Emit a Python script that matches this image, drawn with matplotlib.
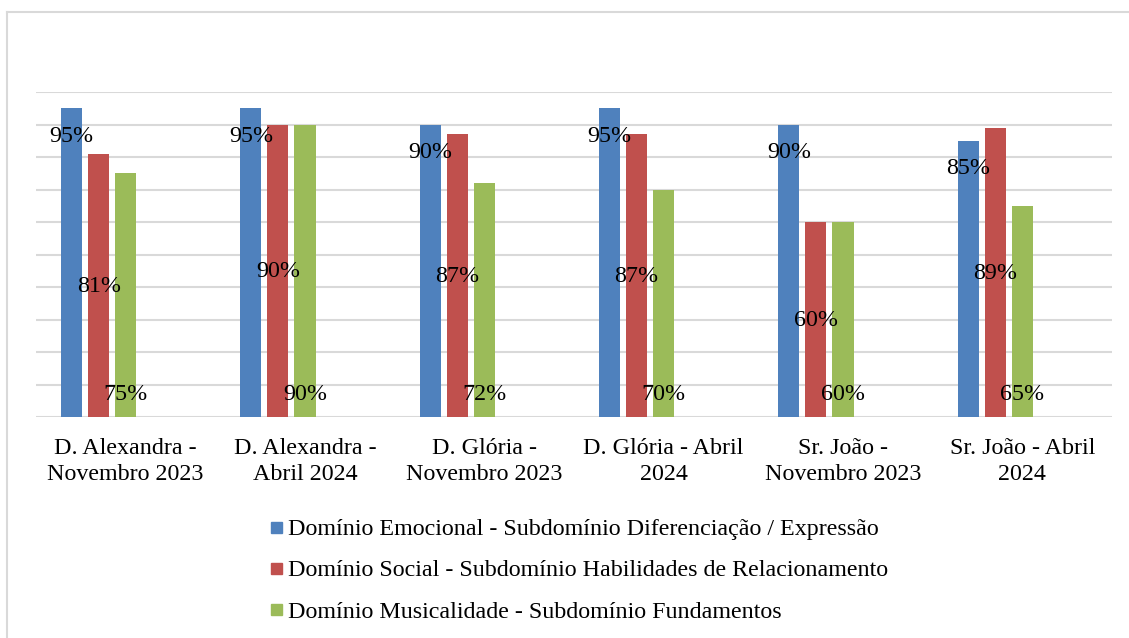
import matplotlib
matplotlib.use("Agg")
import matplotlib.pyplot as plt
from matplotlib.patches import Rectangle
from matplotlib.lines import Line2D
import numpy as np

categories = ["D. Alexandra -\nNovembro 2023", "D. Alexandra -\nAbril 2024",
              "D. Glória -\nNovembro 2023", "D. Glória - Abril\n2024",
              "Sr. João -\nNovembro 2023", "Sr. João - Abril\n2024"]
series_names = ["Domínio Emocional - Subdomínio Diferenciação / Expressão",
                "Domínio Social - Subdomínio Habilidades de Relacionamento",
                "Domínio Musicalidade - Subdomínio Fundamentos"]
emocional = [95, 95, 90, 95, 90, 85]
social = [81, 90, 87, 87, 60, 89]
musicalidade = [75, 90, 72, 70, 60, 65]
colors = ["#4F81BD", "#C0504D", "#9BBB59"]

plt.rcParams['font.family'] = ['Liberation Serif', 'DejaVu Serif']
FS = 17.3

W, H = 1129, 638
fig = plt.figure(figsize=(W/100, H/100), dpi=100)
ax = fig.add_axes([36/W, 1-417/H, (1112-36)/W, 325/H])

x = np.arange(len(categories))
bw = 21/179.3
step = 27/179.3
offsets = [-2*step, -step, 0]
data = [emocional, social, musicalidade]

for i, (vals, col) in enumerate(zip(data, colors)):
    ax.bar(x + offsets[i], vals, width=bw, color=col, edgecolor='none', zorder=3)

for xi in range(len(categories)):
    ax.annotate(f"{emocional[xi]}%", xy=(xi + offsets[0], emocional[xi]), xytext=(0, -28),
                textcoords='offset pixels', ha='center', va='center', fontsize=FS, zorder=5)
    ax.annotate(f"{social[xi]}%", xy=(xi + offsets[1], social[xi]/2), xytext=(0, -1),
                textcoords='offset pixels', ha='center', va='center', fontsize=FS, zorder=5)
    ax.annotate(f"{musicalidade[xi]}%", xy=(xi + offsets[2], 0), xytext=(0, 22),
                textcoords='offset pixels', ha='center', va='center', fontsize=FS, zorder=5)

ax.set_xlim(-0.5, len(categories) - 0.5)
ax.set_ylim(0, 100)
ax.set_yticks(np.arange(0, 101, 10))
ax.yaxis.grid(True, color='#D9D9D9', linewidth=1.5, zorder=0)
ax.set_axisbelow(True)
ax.tick_params(axis='y', left=False, labelleft=False)
ax.set_xticks(x)
ax.set_xticklabels(categories, fontsize=FS, linespacing=1.3)
ax.tick_params(axis='x', length=0, pad=15)
for s in ax.spines.values():
    s.set_visible(False)

fig.add_artist(Line2D([7/W, 7/W], [0, 1-12/H], color='#D9D9D9', linewidth=1.5, transform=fig.transFigure))
fig.add_artist(Line2D([7/W, 1], [1-12/H, 1-12/H], color='#D9D9D9', linewidth=1.5, transform=fig.transFigure))

rows_y = [528, 569, 610]
for name, col, ry in zip(series_names, colors, rows_y):
    fig.add_artist(Rectangle((271/W, 1-(ry+5)/H), 11/W, 11/H, color=col, transform=fig.transFigure))
    fig.text(288/W, 1-(ry+2)/H, name, fontsize=FS, ha='left', va='center')

fig.savefig("out.png", dpi=100)
